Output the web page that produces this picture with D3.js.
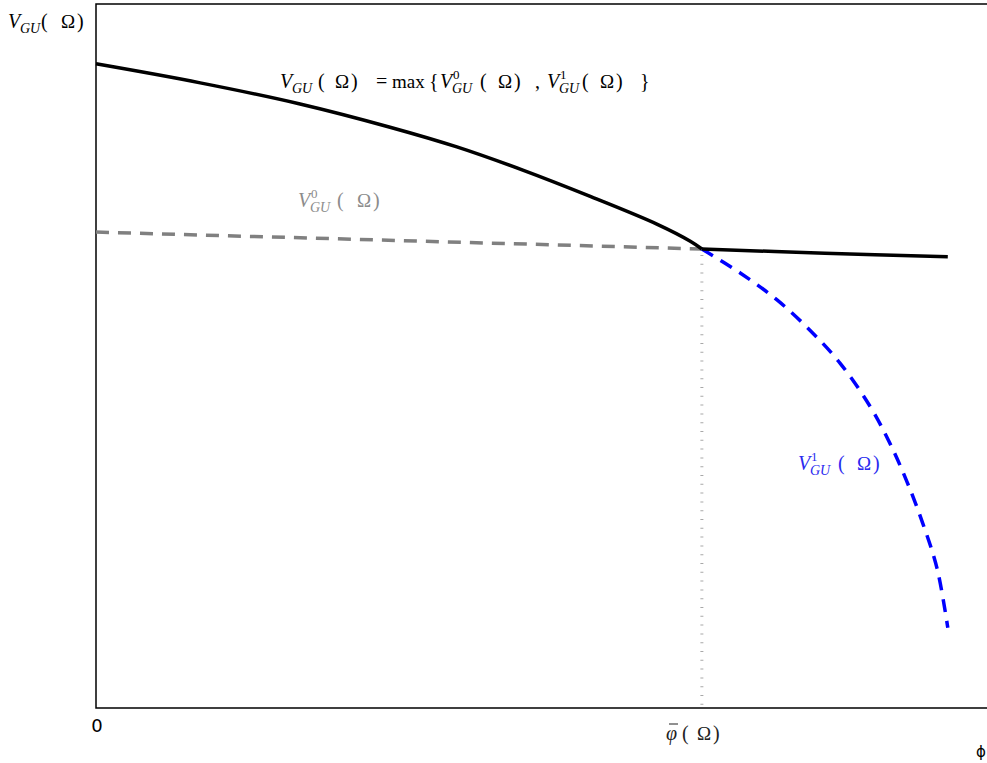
<!DOCTYPE html>
<html>
<head>
<meta charset="utf-8">
<script src="https://cdn.jsdelivr.net/npm/d3@7"></script>
<style>
  body { margin: 0; background: #fff; }
  svg { display: block; }
  .math { font-family: "Liberation Serif", "DejaVu Serif", serif; }
</style>
</head>
<body>
<svg id="chart" width="987" height="763"></svg>
<script>
"use strict";

// phi (x) and value functions (y)
var phiBar = 0.68;

var envPhi = [0, 0.117, 0.229, 0.330, 0.405, 0.479, 0.554, 0.630, 0.667, 0.68, 0.818, 0.956];
var envVal = [0.915, 0.888, 0.858, 0.825, 0.797, 0.764, 0.727, 0.687, 0.663, 0.652, 0.646, 0.641];

var v0Phi = [0, 0.68];
var v0Val = [0.676, 0.652];

var v1Phi = [0.68, 0.723, 0.764, 0.801, 0.835, 0.869, 0.891, 0.910, 0.928, 0.944, 0.956];
var v1Val = [0.652, 0.618, 0.580, 0.537, 0.490, 0.428, 0.376, 0.322, 0.262, 0.198, 0.114];

var xTickLabels = ["0"];
var xAxisName = "\u03D5";

var svg = d3.select("#chart");
var margin = {left: 96, top: 4, right: 0, bottom: 55};
var W = 987, H = 763;

var x = d3.scaleLinear().domain([0, 1]).range([margin.left, W - margin.right]);
var y = d3.scaleLinear().domain([0, 1]).range([H - margin.bottom, margin.top]);

function pts(xs, ys, keep){
  return xs.map(function(d, i){ return [d, ys[i]]; }).filter(function(p){ return keep ? keep(p[0]) : true; });
}

var line = d3.line()
  .x(function(d){ return x(d[0]); })
  .y(function(d){ return y(d[1]); })
  .curve(d3.curveCatmullRom.alpha(0.5));

// frame
svg.append("path")
  .attr("d", "M" + (W + 2) + "," + y(1) + " H" + x(0) + " V" + y(0) + " H" + (W + 2))
  .attr("fill", "none")
  .attr("stroke", "#000")
  .attr("stroke-width", 1.5);

// threshold marker
svg.append("line")
  .attr("x1", x(phiBar)).attr("x2", x(phiBar))
  .attr("y1", y(v0Val[1]) + 6).attr("y2", y(0))
  .attr("stroke", "#a8a8a8")
  .attr("stroke-width", 3)
  .attr("stroke-dasharray", "1,7.8");

svg.append("path")
  .attr("d", line(pts(v0Phi, v0Val)))
  .attr("fill", "none")
  .attr("stroke", "#808080")
  .attr("stroke-width", 3.5)
  .attr("stroke-dasharray", "13,9");

svg.append("path")
  .attr("d", line(pts(v1Phi, v1Val)))
  .attr("fill", "none")
  .attr("stroke", "#0000ff")
  .attr("stroke-width", 3.5)
  .attr("stroke-dasharray", "13,9");

// envelope, drawn as two smooth branches meeting at the kink
[function(p){ return p <= phiBar; }, function(p){ return p >= phiBar; }].forEach(function(keep){
  svg.append("path")
    .attr("d", line(pts(envPhi, envVal, keep)))
    .attr("fill", "none")
    .attr("stroke", "#000")
    .attr("stroke-width", 3.5)
    .attr("stroke-linejoin", "round");
});

// math labels, built from pieces placed along the baseline
function mathLabel(px, py, color, pieces){
  var t = svg.append("text")
    .attr("class", "math")
    .attr("fill", color);
  pieces.forEach(function(p){
    t.append("tspan")
      .attr("x", px + p.at)
      .attr("y", py + (p.dy || 0))
      .attr("font-size", p.s || 20)
      .attr("font-style", p.it ? "italic" : "normal")
      .text(p.t);
  });
  return t;
}

function vgu(at, sup){
  var out = [{t: "V", at: at, it: true}];
  if(sup !== undefined) out.push({t: sup, at: at + 13, dy: -9, s: 13});
  out.push({t: "GU", at: at + 12, dy: 5, s: 14, it: true});
  return out;
}

function arg(at, w){
  return [{t: "(", at: at}, {t: "\u03A9", at: at + w, s: 19}, {t: ")", at: at + w + 16}];
}

mathLabel(8, 28, "#000", [].concat(vgu(0), arg(33, 20)));

mathLabel(280, 88, "#000", [].concat(
  vgu(0), arg(38, 17),
  [{t: "=", at: 96}, {t: "max", at: 112, s: 19}, {t: "{", at: 149}],
  vgu(160, "0"), arg(200, 18),
  [{t: ",", at: 255}],
  vgu(267, "1"), arg(302, 18),
  [{t: "}", at: 360}]
));

mathLabel(298, 207, "#8c8c8c", [].concat(vgu(0, "0"), arg(39, 20)));
mathLabel(798, 470, "#2a2af0", [].concat(vgu(0, "1"), arg(40, 19)));

mathLabel(666, 740, "#222", [].concat([{t: "\u03C6", at: 0, it: true}], arg(16, 15)));
svg.append("line")
  .attr("x1", 669).attr("x2", 678)
  .attr("y1", 724).attr("y2", 724)
  .attr("stroke", "#222")
  .attr("stroke-width", 1);

// axis texts
svg.append("text")
  .attr("x", x(0) + 1).attr("y", 732)
  .attr("text-anchor", "middle")
  .attr("font-family", "DejaVu Sans, sans-serif")
  .attr("font-size", 18)
  .text(xTickLabels[0]);

svg.append("text")
  .attr("x", 976).attr("y", 757)
  .attr("font-family", "DejaVu Sans, sans-serif")
  .attr("font-size", 15)
  .text(xAxisName);
</script>
</body>
</html>
